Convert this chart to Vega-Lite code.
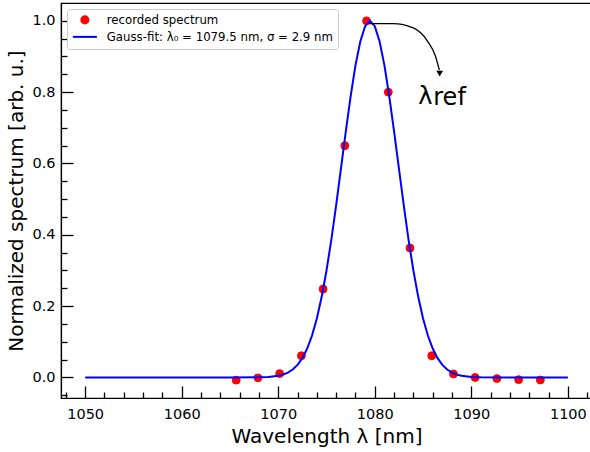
{
  "$schema": "https://vega.github.io/schema/vega-lite/v6.json",
  "width": 531,
  "height": 395,
  "autosize": "none",
  "padding": {"left": 61, "top": 3, "right": 0, "bottom": 54},
  "background": "white",
  "config": {
    "font": "DejaVu Sans",
    "view": {"stroke": "black", "strokeWidth": 1.2},
    "axis": {"grid": false, "domainColor": "black", "domainWidth": 1.2, "tickColor": "black", "tickWidth": 1.3, "tickSize": -12, "labelColor": "black", "titleColor": "black", "labelFont": "DejaVu Sans", "titleFont": "DejaVu Sans", "titleFontWeight": "normal", "labelFontSize": 14.5, "titleFontSize": 20},
    "axisX": {"labelPadding": 21, "titlePadding": 6},
    "axisY": {"labelPadding": 18, "titlePadding": 5},
    "legend": {"orient": "top-left", "offset": 6, "fillColor": "white", "strokeColor": "#cccccc", "cornerRadius": 3, "padding": 5, "labelFontSize": 11.75, "labelFont": "DejaVu Sans", "labelColor": "black", "symbolStrokeWidth": 2, "symbolSize": 50, "symbolOffset": 7, "labelOffset": 16, "rowPadding": 3, "symbolOpacity": 1, "labelLimit": 400}
  },
  "datasets": {
    "points": [
      {"wl": 1065.65, "v": -0.0075, "series": "recorded spectrum"},
      {"wl": 1067.9, "v": -0.001, "series": "recorded spectrum"},
      {"wl": 1070.15, "v": 0.011, "series": "recorded spectrum"},
      {"wl": 1072.4, "v": 0.061, "series": "recorded spectrum"},
      {"wl": 1074.65, "v": 0.248, "series": "recorded spectrum"},
      {"wl": 1076.9, "v": 0.65, "series": "recorded spectrum"},
      {"wl": 1079.15, "v": 1.0, "series": "recorded spectrum"},
      {"wl": 1081.4, "v": 0.8, "series": "recorded spectrum"},
      {"wl": 1083.65, "v": 0.363, "series": "recorded spectrum"},
      {"wl": 1085.9, "v": 0.061, "series": "recorded spectrum"},
      {"wl": 1088.15, "v": 0.01, "series": "recorded spectrum"},
      {"wl": 1090.4, "v": 0.0, "series": "recorded spectrum"},
      {"wl": 1092.65, "v": -0.003, "series": "recorded spectrum"},
      {"wl": 1094.9, "v": -0.006, "series": "recorded spectrum"},
      {"wl": 1097.15, "v": -0.007, "series": "recorded spectrum"}
    ],
    "fit": [
      {"wl": 1050, "v": 0},
      {"wl": 1060, "v": 0},
      {"wl": 1065, "v": 0.000004},
      {"wl": 1068, "v": 0.00039},
      {"wl": 1069, "v": 0.00142},
      {"wl": 1070, "v": 0.00467},
      {"wl": 1070.5, "v": 0.0081},
      {"wl": 1071, "v": 0.0136},
      {"wl": 1071.5, "v": 0.0223},
      {"wl": 1072, "v": 0.0353},
      {"wl": 1072.5, "v": 0.0543},
      {"wl": 1073, "v": 0.0811},
      {"wl": 1073.5, "v": 0.1176},
      {"wl": 1074, "v": 0.1656},
      {"wl": 1074.5, "v": 0.2262},
      {"wl": 1075, "v": 0.300},
      {"wl": 1075.5, "v": 0.386},
      {"wl": 1076, "v": 0.483},
      {"wl": 1076.5, "v": 0.586},
      {"wl": 1077, "v": 0.690},
      {"wl": 1077.5, "v": 0.788},
      {"wl": 1078, "v": 0.875},
      {"wl": 1078.5, "v": 0.942},
      {"wl": 1079, "v": 0.985},
      {"wl": 1079.5, "v": 1.0},
      {"wl": 1080, "v": 0.985},
      {"wl": 1080.5, "v": 0.942},
      {"wl": 1081, "v": 0.875},
      {"wl": 1081.5, "v": 0.788},
      {"wl": 1082, "v": 0.690},
      {"wl": 1082.5, "v": 0.586},
      {"wl": 1083, "v": 0.483},
      {"wl": 1083.5, "v": 0.386},
      {"wl": 1084, "v": 0.300},
      {"wl": 1084.5, "v": 0.2262},
      {"wl": 1085, "v": 0.1656},
      {"wl": 1085.5, "v": 0.1176},
      {"wl": 1086, "v": 0.0811},
      {"wl": 1086.5, "v": 0.0543},
      {"wl": 1087, "v": 0.0353},
      {"wl": 1087.5, "v": 0.0223},
      {"wl": 1088, "v": 0.0136},
      {"wl": 1088.5, "v": 0.0081},
      {"wl": 1089, "v": 0.00467},
      {"wl": 1090, "v": 0.00142},
      {"wl": 1091, "v": 0.00039},
      {"wl": 1094, "v": 0.000004},
      {"wl": 1100, "v": 0}
    ],
    "arrow": [
      {"wl": 1079.42, "v": 0.992, "o": 1},
      {"wl": 1081.9, "v": 0.992, "o": 2},
      {"wl": 1083.99, "v": 0.98, "o": 3},
      {"wl": 1085.44, "v": 0.944, "o": 4},
      {"wl": 1086.27, "v": 0.902, "o": 5},
      {"wl": 1086.69, "v": 0.862, "o": 6}
    ],
    "head": [{"wl": 1086.72, "v": 0.852}],
    "label": [{"wl": 1084.5, "v": 0.768, "t": "λ"}, {"wl": 1086.06, "v": 0.765, "t": "ref"}]
  },
  "layer": [
    {
      "data": {"name": "fit"},
      "mark": {"type": "rule", "opacity": 0},
      "encoding": {
        "x": {"field": "wl", "type": "quantitative", "scale": {"domain": [1047.5, 1102.5], "nice": false, "zero": false},
          "axis": {"values": [1048, 1052, 1054, 1056, 1058, 1062, 1064, 1066, 1068, 1072, 1074, 1076, 1078, 1082, 1084, 1086, 1088, 1092, 1094, 1096, 1098, 1102], "orient": "bottom", "tickSize": -6, "labels": false, "domain": false, "title": null}},
        "y": {"field": "v", "type": "quantitative", "scale": {"domain": [-0.0575, 1.05], "nice": false, "zero": false},
          "axis": {"values": [-0.05, 0.05, 0.1, 0.15, 0.25, 0.3, 0.35, 0.45, 0.5, 0.55, 0.65, 0.7, 0.75, 0.85, 0.9, 0.95], "orient": "left", "tickSize": -6, "labels": false, "domain": false, "title": null}}
      }
    },
    {
      "data": {"name": "points"},
      "mark": {"type": "point", "filled": true, "opacity": 1, "size": 62, "strokeWidth": 1},
      "encoding": {
        "x": {"field": "wl", "type": "quantitative", "axis": null},
        "y": {"field": "v", "type": "quantitative", "axis": null},
        "fill": {"field": "series", "type": "nominal", "title": null, "scale": {"domain": ["recorded spectrum", "Gauss-fit: λ₀ = 1079.5 nm, σ = 2.9 nm"], "range": ["#ff0000", "#0000ff"]}},
        "stroke": {"field": "series", "type": "nominal", "title": null, "scale": {"domain": ["recorded spectrum", "Gauss-fit: λ₀ = 1079.5 nm, σ = 2.9 nm"], "range": ["#ff0000", "#0000ff"]}},
        "shape": {"field": "series", "type": "nominal", "title": null, "scale": {"domain": ["recorded spectrum", "Gauss-fit: λ₀ = 1079.5 nm, σ = 2.9 nm"], "range": ["circle", "M-3.4,0H3.4"]}}
      }
    },
    {
      "data": {"name": "fit"},
      "mark": {"type": "line", "clip": true, "strokeWidth": 2},
      "encoding": {
        "x": {"field": "wl", "type": "quantitative", "title": "Wavelength λ [nm]",
          "axis": {"orient": "bottom", "values": [1050, 1060, 1070, 1080, 1090, 1100], "format": "d"}},
        "y": {"field": "v", "type": "quantitative", "title": "Normalized spectrum [arb. u.]",
          "axis": {"orient": "left", "values": [0, 0.2, 0.4, 0.6, 0.8, 1.0], "format": ".1f"}},
        "stroke": {"datum": "Gauss-fit: λ₀ = 1079.5 nm, σ = 2.9 nm", "type": "nominal", "title": null}
      }
    },
    {
      "data": {"name": "arrow"},
      "mark": {"type": "line", "color": "black", "strokeWidth": 1.3, "interpolate": "monotone"},
      "encoding": {
        "x": {"field": "wl", "type": "quantitative", "axis": null},
        "y": {"field": "v", "type": "quantitative", "axis": null},
        "order": {"field": "o"}
      }
    },
    {
      "data": {"name": "head"},
      "mark": {"type": "point", "shape": "triangle-down", "filled": true, "color": "black", "size": 45, "opacity": 1},
      "encoding": {
        "x": {"field": "wl", "type": "quantitative", "axis": null},
        "y": {"field": "v", "type": "quantitative", "axis": null}
      }
    },
    {
      "data": {"name": "label"},
      "mark": {"type": "text", "fontSize": 24, "color": "black", "align": "left", "baseline": "alphabetic"},
      "encoding": {
        "x": {"field": "wl", "type": "quantitative", "axis": null},
        "y": {"field": "v", "type": "quantitative", "axis": null},
        "text": {"field": "t"}
      }
    }
  ],
  "resolve": {"axis": {"x": "independent", "y": "independent"}, "scale": {"x": "shared", "y": "shared"}}
}
